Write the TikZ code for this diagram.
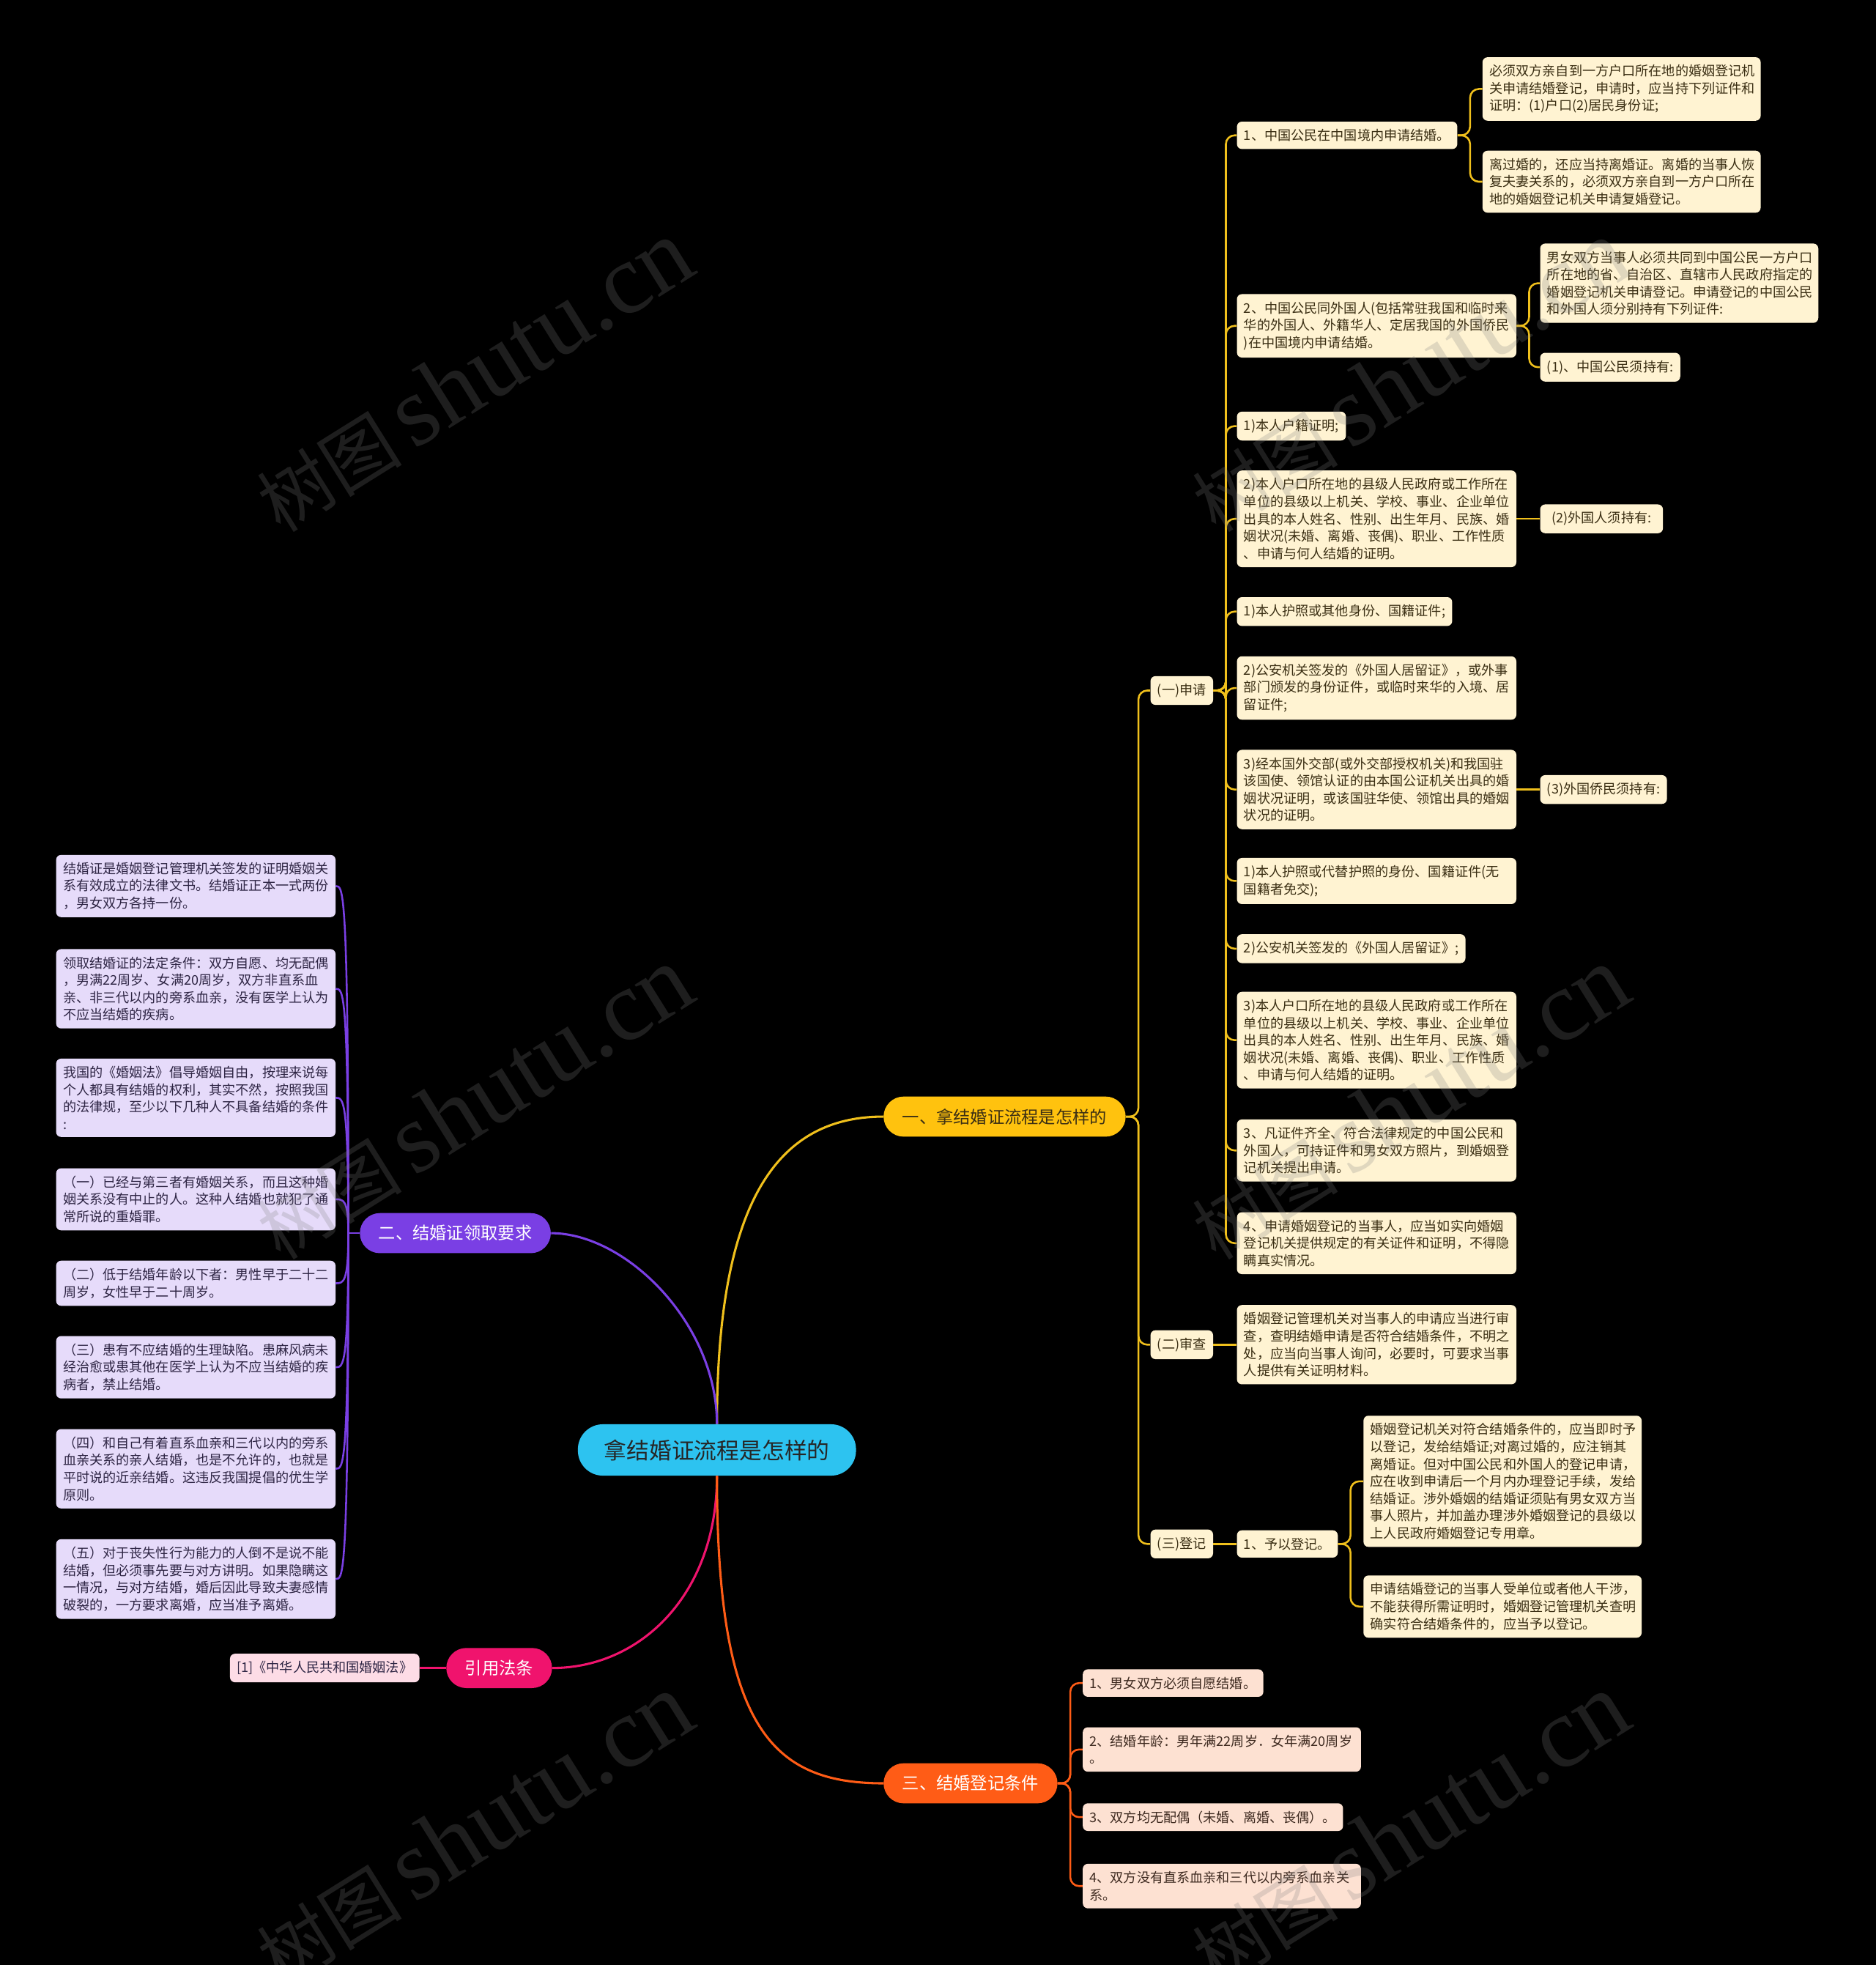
\documentclass[tikz,border=0pt]{standalone}
\usepackage{fontspec}
\setmainfont{Noto Sans CJK SC}
\newfontfamily\wmserif{Liberation Serif}
\usetikzlibrary{calc}
\definecolor{rootc}{HTML}{2DC3F0}
\definecolor{yel}{HTML}{FFC20E}
\definecolor{yline}{HTML}{F0C01C}
\definecolor{cream}{HTML}{FFF3D2}
\definecolor{ctext}{HTML}{3B2F14}
\definecolor{pur}{HTML}{7A3FE4}
\definecolor{lav}{HTML}{E6DBFA}
\definecolor{ltext}{HTML}{2E2544}
\definecolor{pnk}{HTML}{F0136D}
\definecolor{pinkbox}{HTML}{FDDCE6}
\definecolor{org}{HTML}{FF5C16}
\definecolor{peach}{HTML}{FDE1D2}
\definecolor{otext}{HTML}{3E2A20}
\tikzset{
  box/.style={rounded corners=4pt, inner xsep=5.5pt, inner ysep=6pt, align=left, anchor=west,
    font=\fontsize{10.6}{13.8}\selectfont},
  ybox/.style={box, fill=cream, text=ctext},
  lbox/.style={box, fill=lav, text=ltext, anchor=east},
  obox/.style={box, fill=peach, text=otext},
  pbox/.style={box, fill=pinkbox, text=ltext, anchor=east},
  tw/.style={text width=#1},
  mainbr/.style={rounded corners=16pt, inner xsep=15pt, inner ysep=0pt, minimum height=32pt,
    anchor=west, font=\fontsize{13.6}{16}\selectfont},
  yl/.style={draw=yline, line width=1.5pt, rounded corners=7pt},
  pl/.style={draw=pur, line width=1.5pt},
  ol/.style={draw=org, line width=1.5pt, rounded corners=7pt},
  kl/.style={draw=pnk, line width=1.5pt},
  wm/.style={text=gray, opacity=0.24, rotate=32, inner sep=0pt},
}
\begin{document}
\begin{tikzpicture}[x=1pt,y=-1pt]
\useasboundingbox (0,0) rectangle (1497,1568);
\fill[black] (0,0) rectangle (1497,1568);

% root and main branches
\node[rounded corners=20pt, fill=rootc, text=black!85, inner xsep=21pt, inner ysep=0pt, minimum height=41pt,
  anchor=west, font=\fontsize{18}{20}\selectfont] (root) at (461,1157) {拿结婚证流程是怎样的};
\node[mainbr, fill=yel, text=ctext] (b1) at (705,891) {一、拿结婚证流程是怎样的};
\node[mainbr, fill=pur, text=white] (b2) at (287,984) {二、结婚证领取要求};
\node[mainbr, fill=pnk, text=white] (b3) at (356,1331) {引用法条};
\node[mainbr, fill=org, text=white] (b4) at (705,1423) {三、结婚登记条件};

% branch 1 level 2
\node[ybox] (s1) at (918,551) {(一)申请};
\node[ybox] (s2) at (918,1073) {(二)审查};
\node[ybox] (s3) at (918,1232) {(三)登记};

% (一)申请 children
\node[ybox] (a1) at (987,108) {1、中国公民在中国境内申请结婚。};
\node[ybox, tw=211pt] (a1x) at (1183,71) {必须双方亲自到一方户口所在地的婚姻登记机\\关申请结婚登记，申请时，应当持下列证件和\\证明：(1)户口(2)居民身份证;};
\node[ybox, tw=211pt] (a1y) at (1183,145) {离过婚的，还应当持离婚证。离婚的当事人恢\\复夫妻关系的，必须双方亲自到一方户口所在\\地的婚姻登记机关申请复婚登记。};
\node[ybox, tw=212pt] (a2) at (987,260) {2、中国公民同外国人(包括常驻我国和临时来\\华的外国人、外籍华人、定居我国的外国侨民\\)在中国境内申请结婚。};
\node[ybox, tw=211pt] (a2x) at (1229,226) {男女双方当事人必须共同到中国公民一方户口\\所在地的省、自治区、直辖市人民政府指定的\\婚姻登记机关申请登记。申请登记的中国公民\\和外国人须分别持有下列证件:};
\node[ybox] (a2y) at (1229,293) {(1)、中国公民须持有:};
\node[ybox] (a3) at (987,340) {1)本人户籍证明;};
\node[ybox, tw=212pt] (a4) at (987,414) {2)本人户口所在地的县级人民政府或工作所在\\单位的县级以上机关、学校、事业、企业单位\\出具的本人姓名、性别、出生年月、民族、婚\\姻状况(未婚、离婚、丧偶)、职业、工作性质\\、申请与何人结婚的证明。};
\node[ybox, minimum width=98pt] (a4x) at (1229,414) {(2)外国人须持有:};
\node[ybox] (a5) at (987,488) {1)本人护照或其他身份、国籍证件;};
\node[ybox, tw=212pt] (a6) at (987,549) {2)公安机关签发的《外国人居留证》，或外事\\部门颁发的身份证件，或临时来华的入境、居\\留证件;};
\node[ybox, tw=212pt] (a7) at (987,630) {3)经本国外交部(或外交部授权机关)和我国驻\\该国使、领馆认证的由本国公证机关出具的婚\\姻状况证明，或该国驻华使、领馆出具的婚姻\\状况的证明。};
\node[ybox] (a7x) at (1229,630) {(3)外国侨民须持有:};
\node[ybox, tw=212pt] (a8) at (987,703) {1)本人护照或代替护照的身份、国籍证件(无\\国籍者免交);};
\node[ybox] (a9) at (987,757) {2)公安机关签发的《外国人居留证》;};
\node[ybox, tw=212pt] (a10) at (987,830) {3)本人户口所在地的县级人民政府或工作所在\\单位的县级以上机关、学校、事业、企业单位\\出具的本人姓名、性别、出生年月、民族、婚\\姻状况(未婚、离婚、丧偶)、职业、工作性质\\、申请与何人结婚的证明。};
\node[ybox, tw=212pt] (a11) at (987,918) {3、凡证件齐全、符合法律规定的中国公民和\\外国人，可持证件和男女双方照片，到婚姻登\\记机关提出申请。};
\node[ybox, tw=212pt] (a12) at (987,992) {4、申请婚姻登记的当事人，应当如实向婚姻\\登记机关提供规定的有关证件和证明，不得隐\\瞒真实情况。};

% (二)审查 child
\node[ybox, tw=212pt] (m1) at (987,1073) {婚姻登记管理机关对当事人的申请应当进行审\\查，查明结婚申请是否符合结婚条件，不明之\\处，应当向当事人询问，必要时，可要求当事\\人提供有关证明材料。};

% (三)登记 children
\node[ybox] (n1) at (987,1232) {1、予以登记。};
\node[ybox, tw=211pt] (n1x) at (1088,1182) {婚姻登记机关对符合结婚条件的，应当即时予\\以登记，发给结婚证;对离过婚的，应注销其\\离婚证。但对中国公民和外国人的登记申请，\\应在收到申请后一个月内办理登记手续，发给\\结婚证。涉外婚姻的结婚证须贴有男女双方当\\事人照片，并加盖办理涉外婚姻登记的县级以\\上人民政府婚姻登记专用章。};
\node[ybox, tw=211pt] (n1y) at (1088,1282) {申请结婚登记的当事人受单位或者他人干涉，\\不能获得所需证明时，婚姻登记管理机关查明\\确实符合结婚条件的，应当予以登记。};

% branch 2 children
\node[lbox, tw=212pt] (p1) at (268,707) {结婚证是婚姻登记管理机关签发的证明婚姻关\\系有效成立的法律文书。结婚证正本一式两份\\，男女双方各持一份。};
\node[lbox, tw=212pt] (p2) at (268,789) {领取结婚证的法定条件：双方自愿、均无配偶\\，男满22周岁、女满20周岁，双方非直系血\\亲、非三代以内的旁系血亲，没有医学上认为\\不应当结婚的疾病。};
\node[lbox, tw=212pt] (p3) at (268,876) {我国的《婚姻法》倡导婚姻自由，按理来说每\\个人都具有结婚的权利，其实不然，按照我国\\的法律规，至少以下几种人不具备结婚的条件\\:};
\node[lbox, tw=212pt] (p4) at (268,957) {（一）已经与第三者有婚姻关系，而且这种婚\\姻关系没有中止的人。这种人结婚也就犯了通\\常所说的重婚罪。};
\node[lbox, tw=212pt] (p5) at (268,1024) {（二）低于结婚年龄以下者：男性早于二十二\\周岁，女性早于二十周岁。};
\node[lbox, tw=212pt] (p6) at (268,1091) {（三）患有不应结婚的生理缺陷。患麻风病未\\经治愈或患其他在医学上认为不应当结婚的疾\\病者，禁止结婚。};
\node[lbox, tw=212pt] (p7) at (268,1172) {（四）和自己有着直系血亲和三代以内的旁系\\血亲关系的亲人结婚，也是不允许的，也就是\\平时说的近亲结婚。这违反我国提倡的优生学\\原则。};
\node[lbox, tw=212pt] (p8) at (268,1260) {（五）对于丧失性行为能力的人倒不是说不能\\结婚，但必须事先要与对方讲明。如果隐瞒这\\一情况，与对方结婚，婚后因此导致夫妻感情\\破裂的，一方要求离婚，应当准予离婚。};

% branch 3 child
\node[pbox] (k1) at (335,1331) {{[1]}《中华人民共和国婚姻法》};

% branch 4 children
\node[obox] (q1) at (864,1343) {1、男女双方必须自愿结婚。};
\node[obox, tw=211pt] (q2) at (864,1396) {2、结婚年龄：男年满22周岁．女年满20周岁\\。};
\node[obox] (q3) at (864,1450) {3、双方均无配偶（未婚、离婚、丧偶）。};
\node[obox, tw=211pt] (q4) at (864,1505) {4、双方没有直系血亲和三代以内旁系血亲关\\系。};

% root connectors
\draw[draw=yline, line width=1.8pt] (root.north) .. controls ($(root.north)+(0,-177)$) and ($(b1.west)+(-85,0)$) .. (b1.west);
\draw[draw=pur, line width=1.8pt] (root.north) .. controls ($(root.north)+(0,-80)$) and ($(b2.east)+(60,0)$) .. (b2.east);
\draw[draw=pnk, line width=1.8pt] (root.south) .. controls ($(root.south)+(0,95)$) and ($(b3.east)+(70,0)$) .. (b3.east);
\draw[draw=org, line width=1.8pt] (root.south) .. controls ($(root.south)+(0,200)$) and ($(b4.west)+(-90,0)$) .. (b4.west);

% branch 1 connectors
\foreach \c in {s1,s2,s3} \draw[yl] (b1.east) -- ++(10,0) |- (\c.west);
\foreach \c in {a1,a2,a3,a4,a5,a6,a7,a8,a9,a10,a11,a12} \draw[yl] (s1.east) -- ++(10,0) |- (\c.west);
\foreach \c in {a1x,a1y} \draw[yl] (a1.east) -- ++(10,0) |- (\c.west);
\foreach \c in {a2x,a2y} \draw[yl] (a2.east) -- ++(10,0) |- (\c.west);
\draw[yl] (a4.east) -- (a4x.west);
\draw[yl] (a7.east) -- (a7x.west);
\draw[yl] (s2.east) -- (m1.west);
\draw[yl] (s3.east) -- (n1.west);
\foreach \c in {n1x,n1y} \draw[yl] (n1.east) -- ++(10,0) |- (\c.west);

% branch 2 connectors
\coordinate (j2) at ($(b2.west)+(-9,0)$);
\draw[pl] (b2.west) -- (j2);
\foreach \c in {p1,p2,p3,p4,p5,p6,p7,p8}
  \draw[pl] (j2) .. controls (j2 |- \c.east) and ($(\c.east)+(6,0)$) .. (\c.east);

% branch 3 connector
\draw[kl] (b3.west) -- (k1.east);

% branch 4 connectors
\foreach \c in {q1,q2,q3,q4} \draw[ol] (b4.east) -- ++(10,0) |- (\c.west);

% watermarks
\foreach \wx/\wy/\wn in {378/300/w1,378/880/w2,378/1460/w3,1125/300/w4,1125/880/w5,1125/1460/w6}
  \node[wm] (\wn) at (\wx,\wy) {\fontsize{58}{60}\selectfont 树图\hspace{10pt}{\wmserif\fontsize{80}{80}\selectfont shutu.cn}};
\end{tikzpicture}
\end{document}
